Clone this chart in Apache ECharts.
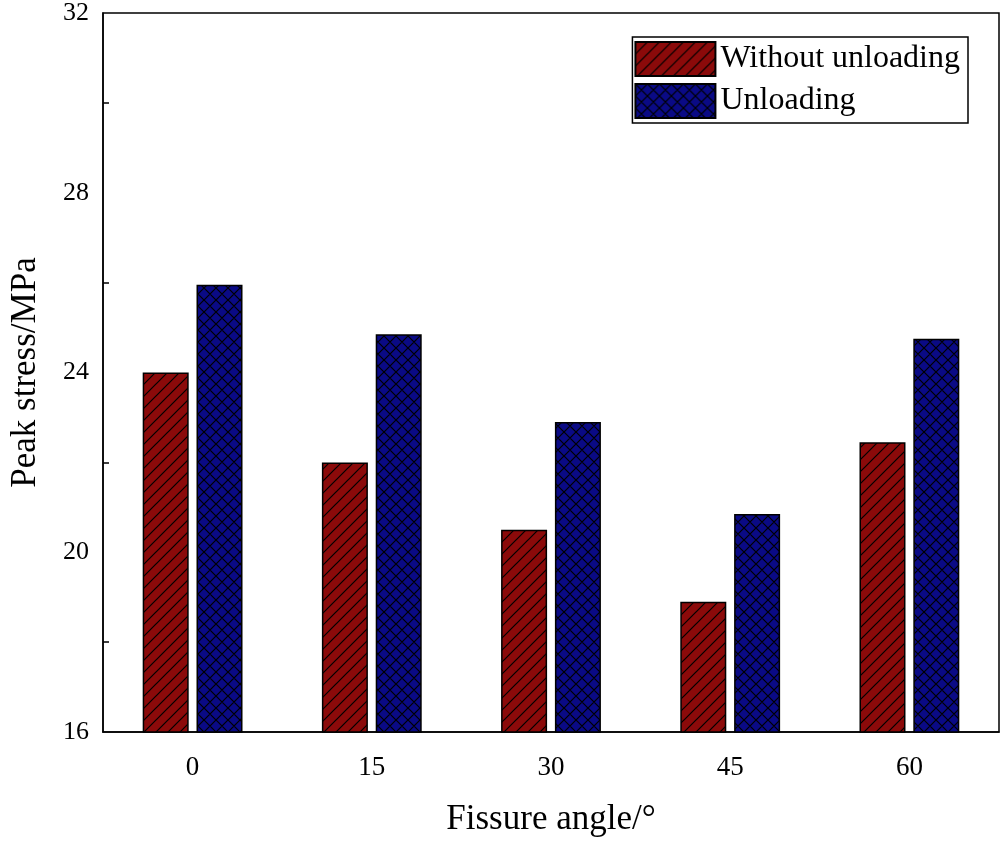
<!DOCTYPE html>
<html><head><meta charset="utf-8">
<script src="https://cdn.jsdelivr.net/npm/echarts@6/dist/echarts.min.js"></script>
<style>html,body{margin:0;padding:0;background:#fff}#c{width:1001px;height:842px}</style>
</head><body><div id="c"></div>
<script>
const categories = ['0','15','30','45','60'];
const withoutUnloading = [24.0, 22.0, 20.5, 18.9, 22.45];
const unloading = [25.95, 24.85, 22.9, 20.85, 24.75];

function hatch(bg, cross){
  const c = document.createElement('canvas'); c.width = 12; c.height = 12;
  const g = c.getContext('2d');
  g.fillStyle = bg; g.fillRect(0,0,12,12);
  g.strokeStyle = '#000'; g.lineWidth = 1.2;
  g.beginPath();
  g.moveTo(-1,13); g.lineTo(13,-1);
  g.moveTo(-7,7); g.lineTo(7,-7);
  g.moveTo(5,19); g.lineTo(19,5);
  if (cross){
    g.moveTo(-1,-1); g.lineTo(13,13);
    g.moveTo(-7,5); g.lineTo(7,19);
    g.moveTo(5,-7); g.lineTo(19,7);
  }
  g.stroke();
  return c;
}
const font = 'Liberation Serif';
const chart = echarts.init(document.getElementById('c'));
chart.setOption({
  animation:false,
  textStyle:{fontFamily:font},
  grid:{left:97,right:2,top:10,bottom:105,show:true,borderColor:'#000',borderWidth:1.5},
  legend:{
    right:33, top:37, orient:'vertical', itemWidth:80, itemHeight:34, itemGap:6, icon:'rect',
    borderColor:'#000', borderWidth:1.5, padding:[4,8,4,2],
    textStyle:{fontFamily:font,fontSize:32,color:'#000'},
    data:['Without unloading','Unloading']
  },
  xAxis:{type:'category',data:categories,
    axisLine:{lineStyle:{color:'#000',width:1.5}},
    axisTick:{inside:true,length:9,lineStyle:{color:'#000',width:1.5}},
    axisLabel:{fontFamily:font,fontSize:27,color:'#000',margin:22},
    name:'Fissure angle/°',nameLocation:'middle',nameGap:70,
    nameTextStyle:{fontFamily:font,fontSize:35,color:'#000'}},
  yAxis:{type:'value',min:16,max:32,interval:4,
    axisLine:{show:true,lineStyle:{color:'#000',width:1.5}},
    axisTick:{inside:true,length:10,lineStyle:{color:'#000',width:1.5}},
    minorTick:{show:true,splitNumber:2,length:6,lineStyle:{color:'#000',width:1.5}},
    splitLine:{show:false},
    axisLabel:{fontFamily:font,fontSize:26,color:'#000',margin:14},
    name:'Peak stress/MPa',nameLocation:'middle',nameGap:60,
    nameTextStyle:{fontFamily:font,fontSize:35,color:'#000'}},
  series:[
    {name:'Without unloading',type:'bar',data:withoutUnloading,barWidth:46,barGap:'17%',
     itemStyle:{color:{image:hatch('#8b0a0a',false),repeat:'repeat'},borderColor:'#000',borderWidth:1.5}},
    {name:'Unloading',type:'bar',data:unloading,barWidth:46,
     itemStyle:{color:{image:hatch('#0a0a85',true),repeat:'repeat'},borderColor:'#000',borderWidth:1.5}}
  ]
});
</script></body></html>
